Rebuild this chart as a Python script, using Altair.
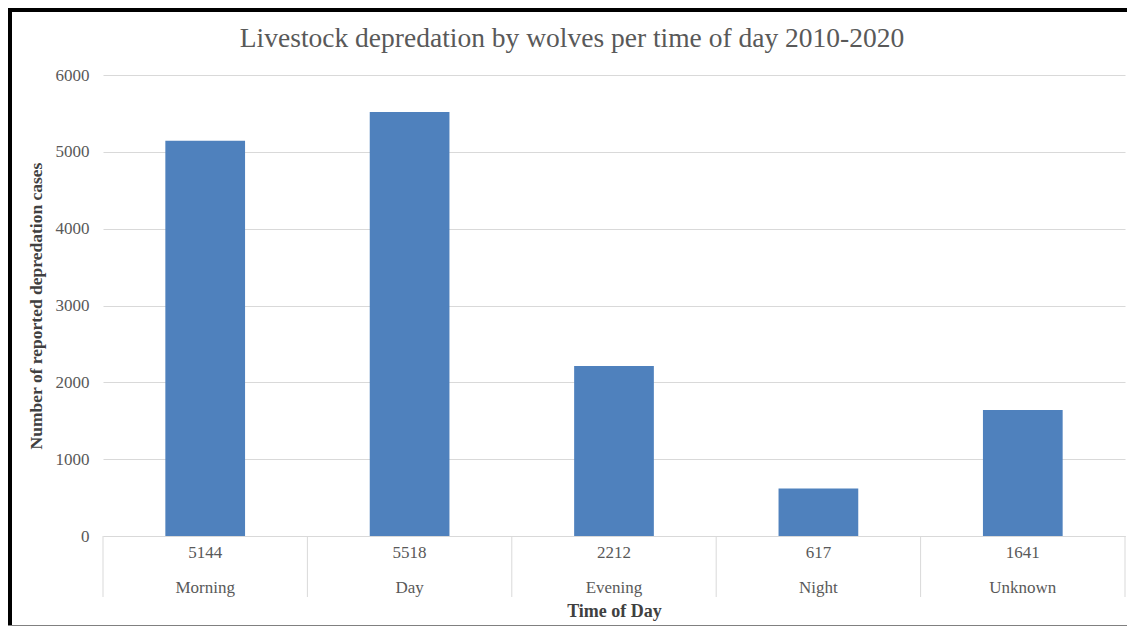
import altair as alt
import pandas as pd

categories = ["Morning", "Day", "Evening", "Night", "Unknown"]
values = [5144, 5518, 2212, 617, 1641]
y_ticks = [0, 1000, 2000, 3000, 4000, 5000, 6000]
title_text = "Livestock depredation by wolves per time of day 2010-2020"

FONT = "Liberation Serif"
BAR = "#4f81bd"
GRID = "#d9d9d9"
TXT = "#595959"

df = pd.DataFrame({"cat": categories, "value": values})
one = pd.DataFrame({"t": [title_text]})

W, H = 1022, 461

xenc = alt.X(
    "cat:N", sort=categories,
    scale=alt.Scale(paddingInner=0, paddingOuter=0),
    axis=alt.Axis(labels=False, ticks=False, domain=True, domainColor=GRID,
                  title="Time of Day", titleFont=FONT, titleFontSize=18,
                  titleFontWeight="bold", titleColor="#404040", titlePadding=66),
)

bars = alt.Chart(df).mark_bar(color=BAR, width=alt.RelativeBandSize(0.39)).encode(
    x=xenc,
    y=alt.Y("value:Q", scale=alt.Scale(domain=[0, 6000]),
            axis=alt.Axis(values=y_ticks, format="d", grid=True, gridColor=GRID, domain=False,
                          ticks=False, labelPadding=14, labelFont=FONT, labelFontSize=17,
                          labelColor=TXT, title="Number of reported depredation cases",
                          titleFont=FONT, titleFontSize=17.5, titleFontWeight="bold",
                          titleColor="#404040", titlePadding=10)),
)

seps = alt.Chart(df).mark_rule(color=GRID, strokeWidth=1).encode(
    x=alt.X("cat:N", sort=categories, bandPosition=0),
    y=alt.value(H), y2=alt.value(H + 61),
)
last_sep = alt.Chart(df[df.cat == "Unknown"]).mark_rule(color=GRID, strokeWidth=1).encode(
    x=alt.X("cat:N", sort=categories, bandPosition=1),
    y=alt.value(H), y2=alt.value(H + 61),
)

val_text = alt.Chart(df).mark_text(font=FONT, fontSize=17, color=TXT, baseline="middle").encode(
    x=alt.X("cat:N", sort=categories), y=alt.value(H + 17), text=alt.Text("value:Q", format="d"),
)
cat_text = alt.Chart(df).mark_text(font=FONT, fontSize=17, color=TXT, baseline="middle").encode(
    x=alt.X("cat:N", sort=categories), y=alt.value(H + 52), text="cat:N",
)

title = alt.Chart(one).mark_text(font=FONT, fontSize=27.5, color=TXT, align="center",
                                 baseline="alphabetic").encode(
    x=alt.value(469), y=alt.value(-28), text="t:N",
)

border_left = alt.Chart(one).mark_rule(color="black", strokeWidth=4).encode(
    x=alt.value(-93), y=alt.value(-67), y2=alt.value(H + 90),
)
border_top = alt.Chart(one).mark_rule(color="black", strokeWidth=4).encode(
    x=alt.value(-95), x2=alt.value(W + 2), y=alt.value(-65),
)
border_bottom = alt.Chart(one).mark_rule(color="#808080", strokeWidth=1).encode(
    x=alt.value(-95), x2=alt.value(W + 2), y=alt.value(H + 89.5),
)

chart = alt.layer(bars, seps, last_sep, val_text, cat_text, title,
                  border_left, border_top, border_bottom).properties(
    width=W, height=H,
    padding={"left": 95, "top": 67, "right": 2, "bottom": 91},
    autosize=alt.AutoSizeParams(type="none"),
    background="white",
).configure_view(stroke=None)

chart.save("out.html", embed_options={"renderer": "svg", "actions": False})
